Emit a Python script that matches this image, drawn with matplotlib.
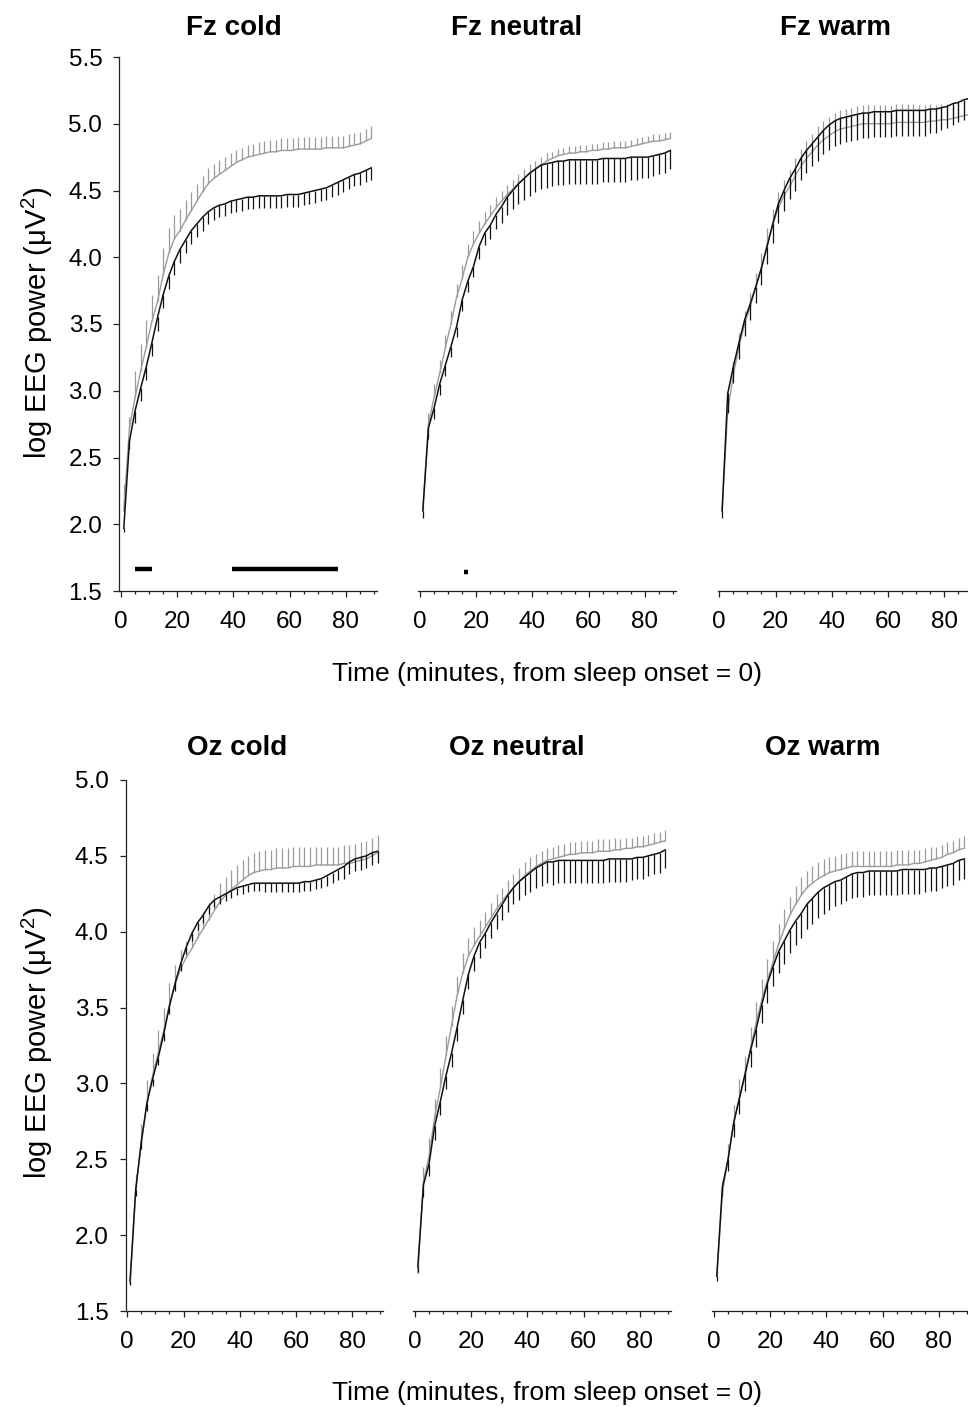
import matplotlib
matplotlib.use('Agg')
import matplotlib.pyplot as plt
from matplotlib.ticker import MultipleLocator, FormatStrFormatter

plt.rcParams['font.family'] = ['Liberation Sans', 'DejaVu Sans']
plt.rcParams['mathtext.fontset'] = 'custom'
plt.rcParams['mathtext.rm'] = 'Liberation Sans'
plt.rcParams['mathtext.it'] = 'Liberation Sans:italic'
plt.rcParams['mathtext.default'] = 'regular'

# ---------------- data ----------------
time_min = [1, 3, 5, 7, 9, 11, 13, 15, 17, 19, 21, 23, 25, 27, 29, 31, 33, 35, 37, 39,
            41, 43, 45, 47, 49, 51, 53, 55, 57, 59, 61, 63, 65, 67, 69, 71, 73, 75, 77, 79,
            81, 83, 85, 87, 89]

fz_cold_gray = [2.10, 2.72, 2.95, 3.15, 3.33, 3.52, 3.67, 3.87, 4.03, 4.14,
                4.20, 4.28, 4.35, 4.42, 4.49, 4.55, 4.59, 4.62, 4.65, 4.68,
                4.71, 4.73, 4.75, 4.76, 4.77, 4.78, 4.79, 4.79, 4.80, 4.80,
                4.80, 4.81, 4.81, 4.81, 4.81, 4.81, 4.82, 4.82, 4.82, 4.82,
                4.83, 4.84, 4.85, 4.87, 4.89]
fz_cold_gray_err = [0.20, 0.08, 0.20, 0.20, 0.20, 0.20, 0.20, 0.20, 0.19, 0.18,
                    0.16, 0.15, 0.14, 0.13, 0.12, 0.12, 0.11, 0.11, 0.10, 0.10,
                    0.09, 0.09, 0.09, 0.09, 0.09, 0.09, 0.09, 0.09, 0.09, 0.09,
                    0.09, 0.09, 0.09, 0.09, 0.09, 0.09, 0.09, 0.09, 0.09, 0.09,
                    0.09, 0.09, 0.09, 0.09, 0.09]
fz_cold_black = [1.97, 2.62, 2.85, 3.02, 3.18, 3.36, 3.55, 3.72, 3.86, 3.97,
                 4.06, 4.13, 4.20, 4.25, 4.30, 4.34, 4.37, 4.39, 4.40, 4.42,
                 4.43, 4.44, 4.45, 4.45, 4.46, 4.46, 4.46, 4.46, 4.46, 4.47,
                 4.47, 4.47, 4.48, 4.49, 4.50, 4.51, 4.52, 4.54, 4.56, 4.58,
                 4.60, 4.62, 4.63, 4.65, 4.67]
fz_cold_black_err = [0.03, 0.06, 0.09, 0.10, 0.10, 0.10, 0.10, 0.10, 0.10, 0.10,
                     0.10, 0.10, 0.10, 0.10, 0.10, 0.09, 0.09, 0.09, 0.09, 0.09,
                     0.09, 0.09, 0.09, 0.09, 0.09, 0.09, 0.09, 0.09, 0.09, 0.09,
                     0.09, 0.09, 0.09, 0.09, 0.09, 0.09, 0.09, 0.09, 0.09, 0.09,
                     0.09, 0.09, 0.09, 0.09, 0.09]

fz_neutral_gray = [2.10, 2.75, 2.95, 3.13, 3.32, 3.50, 3.70, 3.84, 4.00, 4.10,
                   4.18, 4.25, 4.31, 4.37, 4.42, 4.47, 4.51, 4.55, 4.59, 4.63,
                   4.66, 4.69, 4.72, 4.74, 4.76, 4.77, 4.78, 4.78, 4.79, 4.79,
                   4.80, 4.80, 4.81, 4.81, 4.82, 4.82, 4.82, 4.83, 4.84, 4.85,
                   4.86, 4.87, 4.87, 4.88, 4.89]
fz_neutral_gray_err = [0.05, 0.08, 0.10, 0.10, 0.10, 0.10, 0.10, 0.10, 0.10, 0.10,
                       0.09, 0.09, 0.08, 0.08, 0.08, 0.07, 0.07, 0.07, 0.07, 0.07,
                       0.06, 0.06, 0.06, 0.05, 0.05, 0.05, 0.05, 0.05, 0.05, 0.05,
                       0.05, 0.05, 0.05, 0.05, 0.05, 0.05, 0.05, 0.05, 0.05, 0.05,
                       0.05, 0.05, 0.05, 0.05, 0.05]
fz_neutral_black = [2.10, 2.72, 2.87, 3.05, 3.19, 3.33, 3.48, 3.68, 3.82, 3.93,
                    4.08, 4.18, 4.24, 4.32, 4.38, 4.45, 4.50, 4.55, 4.59, 4.63,
                    4.66, 4.69, 4.70, 4.71, 4.72, 4.72, 4.73, 4.73, 4.73, 4.73,
                    4.73, 4.73, 4.74, 4.74, 4.74, 4.74, 4.74, 4.75, 4.75, 4.75,
                    4.75, 4.76, 4.77, 4.78, 4.80]
fz_neutral_black_err = [0.05, 0.08, 0.08, 0.08, 0.08, 0.08, 0.08, 0.08, 0.08, 0.08,
                        0.09, 0.09, 0.10, 0.11, 0.12, 0.13, 0.14, 0.15, 0.16, 0.17,
                        0.17, 0.18, 0.18, 0.18, 0.18, 0.18, 0.18, 0.18, 0.18, 0.18,
                        0.18, 0.18, 0.18, 0.18, 0.18, 0.18, 0.18, 0.17, 0.17, 0.16,
                        0.16, 0.15, 0.15, 0.15, 0.14]

fz_warm_gray = [2.10, 2.85, 3.12, 3.33, 3.50, 3.63, 3.78, 3.92, 4.10, 4.24,
                4.37, 4.46, 4.53, 4.61, 4.68, 4.74, 4.79, 4.84, 4.88, 4.91,
                4.94, 4.96, 4.97, 4.98, 4.99, 5.00, 5.00, 5.00, 5.00, 5.00,
                5.00, 5.01, 5.01, 5.01, 5.01, 5.01, 5.01, 5.02, 5.02, 5.03,
                5.03, 5.04, 5.05, 5.06, 5.07]
fz_warm_gray_err = [0.05, 0.08, 0.10, 0.10, 0.10, 0.10, 0.10, 0.11, 0.12, 0.12,
                    0.12, 0.12, 0.12, 0.13, 0.13, 0.13, 0.13, 0.14, 0.14, 0.14,
                    0.14, 0.14, 0.14, 0.14, 0.14, 0.14, 0.14, 0.14, 0.14, 0.14,
                    0.14, 0.14, 0.14, 0.14, 0.14, 0.13, 0.13, 0.13, 0.12, 0.12,
                    0.12, 0.12, 0.11, 0.11, 0.11]
fz_warm_black = [2.10, 2.98, 3.18, 3.36, 3.53, 3.65, 3.78, 3.92, 4.08, 4.25,
                 4.40, 4.50, 4.59, 4.66, 4.74, 4.80, 4.85, 4.90, 4.95, 4.99,
                 5.02, 5.04, 5.05, 5.06, 5.07, 5.08, 5.08, 5.09, 5.09, 5.09,
                 5.09, 5.10, 5.10, 5.10, 5.10, 5.10, 5.10, 5.11, 5.11, 5.12,
                 5.13, 5.15, 5.16, 5.18, 5.19]
fz_warm_black_err = [0.05, 0.15, 0.12, 0.12, 0.12, 0.12, 0.12, 0.13, 0.13, 0.14,
                     0.14, 0.15, 0.15, 0.16, 0.16, 0.17, 0.17, 0.18, 0.18, 0.19,
                     0.19, 0.19, 0.19, 0.19, 0.19, 0.19, 0.19, 0.19, 0.19, 0.19,
                     0.19, 0.19, 0.19, 0.19, 0.19, 0.19, 0.19, 0.18, 0.18, 0.17,
                     0.16, 0.16, 0.15, 0.15, 0.14]

oz_cold_gray = [1.68, 2.30, 2.60, 2.88, 3.05, 3.20, 3.35, 3.52, 3.65, 3.76,
                3.83, 3.89, 3.96, 4.02, 4.08, 4.14, 4.20, 4.24, 4.28, 4.31,
                4.34, 4.37, 4.39, 4.40, 4.41, 4.41, 4.42, 4.42, 4.42, 4.43,
                4.43, 4.43, 4.43, 4.44, 4.44, 4.44, 4.44, 4.44, 4.45, 4.45,
                4.46, 4.47, 4.48, 4.50, 4.52]
oz_cold_gray_err = [0.05, 0.10, 0.13, 0.14, 0.15, 0.15, 0.15, 0.14, 0.13, 0.12,
                    0.11, 0.11, 0.11, 0.11, 0.11, 0.11, 0.12, 0.12, 0.13, 0.13,
                    0.13, 0.13, 0.13, 0.13, 0.13, 0.13, 0.13, 0.13, 0.13, 0.13,
                    0.13, 0.13, 0.13, 0.12, 0.12, 0.12, 0.12, 0.12, 0.12, 0.12,
                    0.12, 0.12, 0.12, 0.12, 0.12]
oz_cold_black = [1.70, 2.30, 2.62, 2.87, 3.03, 3.17, 3.33, 3.51, 3.66, 3.79,
                 3.90, 3.99, 4.06, 4.11, 4.17, 4.21, 4.23, 4.25, 4.27, 4.29,
                 4.30, 4.31, 4.32, 4.32, 4.32, 4.32, 4.32, 4.32, 4.32, 4.32,
                 4.32, 4.33, 4.33, 4.34, 4.35, 4.37, 4.39, 4.41, 4.43, 4.46,
                 4.48, 4.49, 4.50, 4.52, 4.53]
oz_cold_black_err = [0.03, 0.04, 0.05, 0.05, 0.05, 0.05, 0.05, 0.05, 0.05, 0.05,
                     0.05, 0.05, 0.05, 0.05, 0.05, 0.05, 0.05, 0.05, 0.05, 0.05,
                     0.05, 0.05, 0.05, 0.05, 0.06, 0.06, 0.06, 0.06, 0.06, 0.06,
                     0.06, 0.06, 0.06, 0.06, 0.06, 0.07, 0.07, 0.07, 0.08, 0.08,
                     0.08, 0.08, 0.08, 0.08, 0.08]

oz_neutral_gray = [1.75, 2.35, 2.52, 2.78, 2.97, 3.18, 3.38, 3.58, 3.73, 3.84,
                   3.91, 3.97, 4.03, 4.09, 4.15, 4.20, 4.25, 4.29, 4.33, 4.37,
                   4.40, 4.43, 4.45, 4.47, 4.48, 4.49, 4.50, 4.51, 4.51, 4.52,
                   4.52, 4.52, 4.53, 4.53, 4.53, 4.54, 4.54, 4.55, 4.55, 4.56,
                   4.56, 4.57, 4.58, 4.59, 4.60]
oz_neutral_gray_err = [0.05, 0.10, 0.12, 0.12, 0.13, 0.13, 0.13, 0.13, 0.13, 0.12,
                       0.12, 0.11, 0.10, 0.10, 0.10, 0.09, 0.09, 0.09, 0.09, 0.09,
                       0.09, 0.08, 0.08, 0.08, 0.08, 0.08, 0.08, 0.08, 0.08, 0.08,
                       0.08, 0.08, 0.08, 0.08, 0.08, 0.08, 0.07, 0.07, 0.07, 0.07,
                       0.07, 0.07, 0.07, 0.07, 0.07]
oz_neutral_black = [1.79, 2.33, 2.47, 2.72, 2.88, 3.05, 3.20, 3.37, 3.55, 3.72,
                    3.84, 3.93, 3.99, 4.06, 4.12, 4.18, 4.24, 4.29, 4.33, 4.36,
                    4.39, 4.42, 4.44, 4.46, 4.46, 4.47, 4.47, 4.47, 4.47, 4.47,
                    4.47, 4.47, 4.47, 4.47, 4.48, 4.48, 4.48, 4.48, 4.48, 4.49,
                    4.49, 4.50, 4.51, 4.52, 4.54]
oz_neutral_black_err = [0.03, 0.08, 0.08, 0.09, 0.09, 0.09, 0.09, 0.09, 0.09, 0.10,
                        0.10, 0.10, 0.10, 0.10, 0.10, 0.10, 0.11, 0.11, 0.12, 0.12,
                        0.13, 0.13, 0.14, 0.14, 0.15, 0.15, 0.15, 0.15, 0.15, 0.15,
                        0.15, 0.15, 0.15, 0.15, 0.15, 0.15, 0.15, 0.15, 0.14, 0.14,
                        0.14, 0.13, 0.13, 0.13, 0.12]

oz_warm_gray = [1.73, 2.28, 2.50, 2.74, 2.90, 3.04, 3.23, 3.40, 3.55, 3.68,
                3.80, 3.92, 4.02, 4.11, 4.18, 4.24, 4.29, 4.32, 4.35, 4.37,
                4.39, 4.40, 4.41, 4.42, 4.43, 4.43, 4.43, 4.43, 4.43, 4.43,
                4.43, 4.43, 4.44, 4.44, 4.44, 4.45, 4.45, 4.46, 4.47, 4.48,
                4.49, 4.51, 4.52, 4.54, 4.55]
oz_warm_gray_err = [0.05, 0.08, 0.10, 0.12, 0.13, 0.14, 0.14, 0.14, 0.14, 0.14,
                    0.14, 0.13, 0.13, 0.12, 0.12, 0.12, 0.11, 0.11, 0.11, 0.11,
                    0.10, 0.10, 0.10, 0.10, 0.10, 0.10, 0.10, 0.10, 0.10, 0.10,
                    0.10, 0.10, 0.10, 0.10, 0.10, 0.09, 0.09, 0.09, 0.09, 0.08,
                    0.08, 0.08, 0.08, 0.08, 0.08]
oz_warm_black = [1.73, 2.32, 2.50, 2.74, 2.90, 3.06, 3.22, 3.36, 3.52, 3.66,
                 3.77, 3.87, 3.94, 4.01, 4.07, 4.12, 4.18, 4.22, 4.26, 4.29,
                 4.31, 4.33, 4.34, 4.36, 4.38, 4.39, 4.39, 4.40, 4.40, 4.40,
                 4.40, 4.40, 4.40, 4.41, 4.41, 4.41, 4.41, 4.41, 4.42, 4.42,
                 4.43, 4.44, 4.45, 4.47, 4.48]
oz_warm_black_err = [0.03, 0.06, 0.08, 0.09, 0.10, 0.11, 0.11, 0.12, 0.12, 0.13,
                     0.13, 0.14, 0.15, 0.15, 0.16, 0.16, 0.16, 0.17, 0.17, 0.17,
                     0.17, 0.16, 0.16, 0.16, 0.16, 0.16, 0.16, 0.16, 0.16, 0.16,
                     0.16, 0.16, 0.16, 0.16, 0.16, 0.16, 0.16, 0.15, 0.15, 0.15,
                     0.14, 0.14, 0.14, 0.13, 0.13]

# significance bars (start, end minutes) and their height
fz_cold_sig = [(5.0, 11.1), (39.6, 77.0)]
fz_neutral_sig = [(15.7, 17.2)]
sig_level = [1.665, 1.645]

titles = ["Fz cold", "Fz neutral", "Fz warm", "Oz cold", "Oz neutral", "Oz warm"]
y_ticks_top = [1.5, 2.0, 2.5, 3.0, 3.5, 4.0, 4.5, 5.0, 5.5]
y_ticks_bottom = [1.5, 2.0, 2.5, 3.0, 3.5, 4.0, 4.5, 5.0]
x_ticks = [0, 20, 40, 60, 80]

# ---------------- figure ----------------
W, H = 968, 1407
fig = plt.figure(figsize=(W / 100, H / 100), dpi=100)

GRAY = '#9b9b9b'
BLACK = '#111111'

def px_axes(left, top, width, height):
    return fig.add_axes([left / W, 1 - (top + height) / H, width / W, height / H])

panel_px = [
    (119.3, 57, 257.6, 534), (418.3, 57, 257.6, 534), (717.6, 57, 257.6, 534),
    (125.6, 780, 257.6, 531), (413.3, 780, 257.6, 531), (712.3, 780, 257.6, 531),
]
series = [
    (fz_cold_gray, fz_cold_gray_err, fz_cold_black, fz_cold_black_err),
    (fz_neutral_gray, fz_neutral_gray_err, fz_neutral_black, fz_neutral_black_err),
    (fz_warm_gray, fz_warm_gray_err, fz_warm_black, fz_warm_black_err),
    (oz_cold_gray, oz_cold_gray_err, oz_cold_black, oz_cold_black_err),
    (oz_neutral_gray, oz_neutral_gray_err, oz_neutral_black, oz_neutral_black_err),
    (oz_warm_gray, oz_warm_gray_err, oz_warm_black, oz_warm_black_err),
]
sigs = [fz_cold_sig, fz_neutral_sig, [], [], [], []]
title_centers = [(234, 28), (517, 28), (835, 28), (237, 748), (517, 748), (823, 748)]

TICK_FS = 17.5
for i, (pos, (g, ge, k, ke)) in enumerate(zip(panel_px, series)):
    ax = px_axes(*pos)
    top_row = i < 3
    zeros = [0.0] * len(time_min)
    ax.errorbar(time_min, g, yerr=[zeros, ge], fmt='none', ecolor=GRAY,
                elinewidth=0.9, capsize=0, zorder=2)
    ax.plot(time_min, g, color=GRAY, lw=1.0, zorder=3)
    ax.errorbar(time_min, k, yerr=[ke, zeros], fmt='none', ecolor=BLACK,
                elinewidth=0.9, capsize=0, zorder=4)
    ax.plot(time_min, k, color=BLACK, lw=1.1, zorder=5)
    for j, (s0, s1) in enumerate(sigs[i]):
        ax.plot([s0, s1], [sig_level[i], sig_level[i]], color='black', lw=3.2,
                solid_capstyle='butt', zorder=6)

    ax.set_xlim(-0.6, 91)
    ax.set_ylim(1.5, 5.5 if top_row else 5.0)
    for sp in ['top', 'right']:
        ax.spines[sp].set_visible(False)
    ax.spines['bottom'].set_linewidth(0.9)
    ax.spines['bottom'].set_color('#222222')
    ax.set_xticks(x_ticks)
    ax.xaxis.set_minor_locator(MultipleLocator(5))
    ax.tick_params(axis='x', which='major', length=4.2, width=0.9, direction='out',
                   pad=10.5, labelsize=TICK_FS, color='#222222')
    ax.tick_params(axis='x', which='minor', length=2.5, width=0.9, direction='out',
                   color='#222222')
    if i % 3 == 0:
        ax.spines['left'].set_linewidth(0.9)
        ax.spines['left'].set_color('#222222')
        ax.set_yticks(y_ticks_top if top_row else y_ticks_bottom)
        ax.yaxis.set_major_formatter(FormatStrFormatter('%.1f'))
        ax.tick_params(axis='y', length=4.2, width=0.9, direction='out', pad=8,
                       labelsize=TICK_FS, color='#222222')
    else:
        ax.spines['left'].set_visible(False)
        ax.set_yticks([])
    ax.patch.set_alpha(0)

    cx, cy = title_centers[i]
    fig.text(cx / W, 1 - cy / H, titles[i], ha='center', va='center',
             fontsize=20, fontweight='bold')

for cy in (323, 1043):
    fig.text(37 / W, 1 - cy / H, r'log EEG power ($\mu$V$^{2}$)', rotation=90,
             ha='center', va='center', fontsize=21)
for cy in (674, 1393):
    fig.text(547 / W, 1 - cy / H, 'Time (minutes, from sleep onset = 0)',
             ha='center', va='center', fontsize=19)

fig.savefig('out.png', dpi=100)
